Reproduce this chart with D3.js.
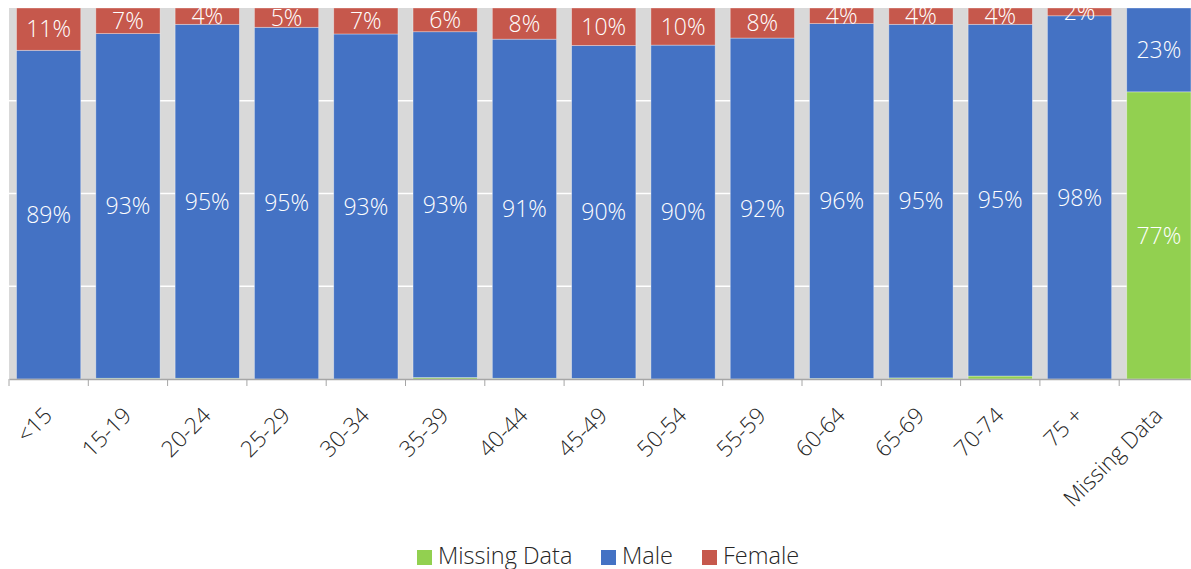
<!DOCTYPE html>
<html>
<head>
<meta charset="utf-8">
<script src="https://cdn.jsdelivr.net/npm/d3@7"></script>
<style>
  html, body { margin: 0; padding: 0; background: #fff; overflow: hidden; }
  svg { display: block; font-family: "Open Sans", "Noto Sans", sans-serif; }
</style>
</head>
<body>
<svg id="chart" width="1191" height="569"></svg>
<script>
const categories = ["<15", "15-19", "20-24", "25-29", "30-34", "35-39", "40-44", "45-49", "50-54", "55-59", "60-64", "65-69", "70-74", "75 +", "Missing Data"];
const missingData = [0, 0.2, 0.2, 0, 0, 0.4, 0.2, 0.15, 0, 0, 0.15, 0.3, 0.8, 0, 77.4];
const male = [88.6, 92.9, 95.4, 94.8, 93.0, 93.2, 91.4, 89.75, 90.0, 91.9, 95.65, 95.3, 94.8, 97.9, 22.6];
const female = [11.4, 6.9, 4.4, 5.2, 7.0, 6.4, 8.4, 10.1, 10.0, 8.1, 4.2, 4.4, 4.4, 2.1, 0];
const seriesNames = ["Missing Data", "Male", "Female"];
const seriesColors = ["#92d050", "#4472c4", "#c6584c"];
const yTicks = [0.25, 0.5, 0.75];

const rows = categories.map((c, i) => ({
  cat: c, "Missing Data": missingData[i], "Male": male[i], "Female": female[i]
}));

const svg = d3.select("#chart");
const plot = { left: 9, right: 1198.5, top: 8, bottom: 379 };

const x = d3.scaleBand().domain(categories).range([plot.left, plot.right])
  .paddingInner(0.19).paddingOuter(0.095);
const y = d3.scaleLinear().domain([0, 1]).range([plot.bottom, plot.top]);
const color = d3.scaleOrdinal().domain(seriesNames).range(seriesColors);

// background
svg.append("rect").attr("x", plot.left).attr("y", plot.top)
  .attr("width", plot.right - plot.left).attr("height", plot.bottom - plot.top)
  .attr("fill", "#d9d9d9");

// gridlines
svg.append("g").selectAll("line").data(yTicks).join("line")
  .attr("x1", plot.left).attr("x2", plot.right)
  .attr("y1", d => y(d)).attr("y2", d => y(d))
  .attr("stroke", "#ffffff").attr("stroke-width", 1.5);

const stacked = d3.stack().keys(seriesNames).offset(d3.stackOffsetExpand)(rows);

const layers = svg.append("g").selectAll("g").data(stacked).join("g")
  .attr("fill", d => color(d.key));
layers.selectAll("rect").data(d => d).join("rect")
  .attr("x", d => x(d.data.cat))
  .attr("width", x.bandwidth())
  .attr("y", d => y(d[1]))
  .attr("height", d => Math.max(0, y(d[0]) - y(d[1])))
  .attr("stroke", "#ffffff").attr("stroke-opacity", 0.45).attr("stroke-width", 0.75);

// labels
const labels = svg.append("g").attr("font-size", 23).attr("font-weight", 300)
  .attr("fill", "#ffffff").attr("text-anchor", "middle");
stacked.forEach(layer => {
  layer.forEach(d => {
    const v = d.data[layer.key];
    if (layer.key === "Missing Data" && v < 5) return;
    if (v <= 0) return;
    labels.append("text")
      .attr("x", x(d.data.cat) + x.bandwidth() / 2)
      .attr("y", (y(d[0]) + y(d[1])) / 2)
      .attr("dy", "0.36em")
      .text(Math.round(v) + "%");
  });
});

// x axis
const xAxis = d3.axisBottom(x).tickSize(0).tickFormat("");
const axisG = svg.append("g").attr("transform", `translate(0,${plot.bottom})`).call(xAxis);
axisG.select(".domain").attr("stroke", "#a6a6a6").attr("stroke-width", 1.3);
// tick marks at band boundaries
const bounds = categories.map(c => x(c) - x.step() * x.paddingInner() / 2);
svg.append("g").selectAll("line").data(bounds).join("line")
  .attr("x1", d => d).attr("x2", d => d)
  .attr("y1", plot.bottom).attr("y2", plot.bottom + 7)
  .attr("stroke", "#a6a6a6").attr("stroke-width", 1);

svg.append("g").selectAll("text").data(categories).join("text")
  .attr("transform", d => `translate(${x(d) + x.bandwidth() / 2 + 5},${plot.bottom + 38}) rotate(-45)`)
  .attr("text-anchor", "end")
  .attr("font-size", 22.5).attr("font-weight", 300).attr("fill", "#262626")
  .text(d => d);

// legend
const legendItems = [
  { name: "Missing Data", x: 417 },
  { name: "Male", x: 601 },
  { name: "Female", x: 702 }
];
const lg = svg.append("g");
legendItems.forEach(it => {
  lg.append("rect").attr("x", it.x).attr("y", 550).attr("width", 15).attr("height", 15)
    .attr("fill", color(it.name));
  lg.append("text").attr("x", it.x + 21).attr("y", 564)
    .attr("font-size", 23.5).attr("font-weight", 300).attr("fill", "#262626")
    .text(it.name);
});
</script>
</body>
</html>
